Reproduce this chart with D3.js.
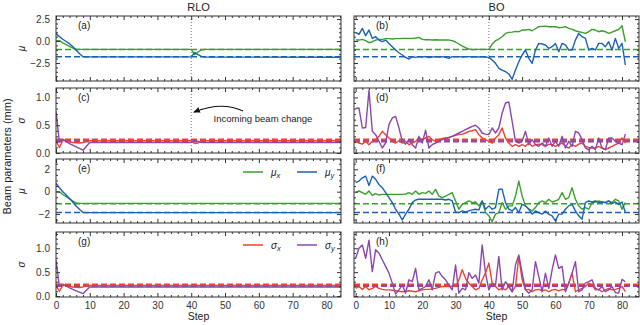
<!DOCTYPE html>
<meta charset="utf-8">
<head>
    <title>RLO vs BO beam parameters</title>
</head>
<script src="https://d3js.org/d3.v7.min.js"></script>
<style>
    body { margin: 0; background: #fff; }
    text { font-family: "Liberation Sans", Arial, sans-serif; fill: #222; }
    .frame { fill: none; stroke: #333; stroke-width: 1; }
    .axis path { stroke: none; }
    .axis line { stroke: #333; }
    .axis text { font-size: 10px; fill: #333; }
    .line { fill: none; stroke-width: 1.4px; stroke-linejoin: round; }
    .target { fill: none; stroke-width: 1.5px; stroke-dasharray: 6,3; }
    .vline { stroke: #777; stroke-width: 1; stroke-dasharray: 1,2; }
</style>
<div id="viz"></div>
<script>
// ---- data ----
var columns = ['RLO', 'BO'];
var rowNames = ['μ', 'σ', 'μ', 'σ'];
var panelLabels = [['(a)', '(b)'], ['(c)', '(d)'], ['(e)', '(f)'], ['(g)', '(h)']];
var xTicks = [0, 10, 20, 30, 40, 50, 60, 70, 80];
var changeStep = 40;

// RLO: [step, value] points
var rloMuXa = [[0,0.05],[1,0.05],[2,-0.2],[3,-0.4],[4,-0.6],[5,-0.8],[6,-0.95],[40,-0.95],[41,-1.55],[42,-1.25],[43,-1.0],[44,-0.95],[84,-0.95]];
var rloMuYa = [[0,0.85],[1,0.5],[2,0.2],[3,-0.05],[4,-0.3],[5,-0.65],[6,-1.05],[7,-1.45],[8,-1.8],[40,-1.8],[41,-1.3],[42,-1.55],[43,-1.75],[44,-1.82],[84,-1.85]];
var rloSigXc = [[0,0.22],[1,0.1],[2,0.22],[3,0.23],[4,0.2],[5,0.19],[7,0.18],[8,0.19],[9,0.22],[40,0.22],[41,0.17],[42,0.18],[43,0.22],[84,0.22]];
var rloSigYc = [[0,0.75],[1,0.2],[2,0.25],[3,0.21],[4,0.17],[6,0.11],[8,0.05],[9,0.12],[10,0.19],[40,0.19],[41,0.23],[42,0.21],[43,0.19],[84,0.19]];
var rloMuXe = [[0,0.0],[1,0.0],[2,-0.25],[3,-0.45],[4,-0.65],[5,-0.85],[6,-1.0],[7,-1.05],[84,-1.05]];
var rloMuYe = [[0,0.75],[1,0.35],[2,0.0],[3,-0.3],[4,-0.6],[5,-0.95],[6,-1.3],[7,-1.6],[8,-1.87],[84,-1.87]];
var rloSigXg = [[0,0.22],[1,0.1],[2,0.22],[3,0.23],[4,0.2],[5,0.19],[7,0.18],[8,0.19],[9,0.22],[84,0.22]];
var rloSigYg = [[0,0.75],[1,0.2],[2,0.25],[3,0.21],[4,0.17],[6,0.11],[8,0.05],[9,0.12],[10,0.19],[84,0.19]];

// BO: one value per step, 0..81
var boMuXb = [0.11,0.11,0.19,0.04,-0.19,-0.08,0.11,0.19,0.19,0.27,0.27,0.23,0.27,0.27,0.30,0.30,0.30,0.30,0.34,0.42,0.19,0.15,0.15,0.11,0.15,0.11,0.11,0.11,0.11,0.04,-0.11,-0.34,-0.57,-0.76,-0.91,-0.98,-0.95,-0.95,-0.95,-0.95,-0.95,-0.34,0.04,0.23,0.49,0.87,0.98,1.02,1.10,1.06,1.25,1.25,1.33,1.17,1.40,1.63,1.67,1.70,1.63,1.63,1.63,1.52,1.55,1.63,1.44,1.33,1.17,1.06,0.98,0.87,1.06,1.33,1.25,1.06,1.17,1.06,0.87,1.02,1.17,1.33,1.74,-0.08];
var boMuYb = [0.98,0.76,1.44,0.61,1.25,0.30,0.49,0.11,-0.08,0.11,-0.27,-0.64,-1.02,-1.33,-1.59,-1.86,-2.05,-1.78,-1.86,-1.78,-1.82,-1.78,-1.89,-1.82,-1.78,-1.82,-1.78,-1.86,-1.97,-1.78,-1.78,-1.78,-1.82,-1.78,-1.78,-1.82,-1.78,-1.82,-1.78,-1.82,-1.86,-2.16,-2.54,-3.11,-3.30,-3.48,-3.75,-4.36,-3.30,-2.35,-1.59,-1.02,-1.97,-2.54,-1.02,-0.27,-0.34,-0.45,-0.83,-0.64,-0.27,-1.21,-0.27,-0.45,-1.02,-1.02,0.11,0.87,0.49,0.30,-1.02,-0.83,-1.02,-0.27,-0.27,-0.64,-0.08,-1.02,0.30,-0.83,-0.27,-2.73];
var boSigXd = [0.21,0.18,0.16,0.21,0.15,0.21,0.24,0.30,0.39,0.33,0.27,0.21,0.18,0.22,0.18,0.21,0.15,0.18,0.21,0.27,0.24,0.27,0.30,0.24,0.21,0.24,0.26,0.27,0.28,0.30,0.32,0.33,0.34,0.36,0.39,0.40,0.42,0.33,0.27,0.24,0.21,0.18,0.27,0.33,0.45,0.27,0.18,0.12,0.15,0.12,0.15,0.12,0.18,0.12,0.15,0.16,0.15,0.12,0.16,0.15,0.12,0.15,0.18,0.12,0.09,0.15,0.12,0.16,0.18,0.12,0.10,0.09,0.09,0.12,0.09,0.06,0.09,0.12,0.15,0.18,0.27,0.18];
var boSigYd = [0.80,0.81,0.45,0.46,1.13,0.39,0.33,0.21,0.09,0.18,0.51,0.63,0.66,0.45,0.21,0.16,0.24,0.15,0.09,0.30,0.18,0.41,0.09,0.15,0.18,0.21,0.24,0.26,0.28,0.30,0.33,0.36,0.39,0.42,0.45,0.48,0.50,0.45,0.36,0.34,0.33,0.45,0.36,0.45,0.72,0.90,0.92,0.57,0.21,0.18,0.21,0.39,0.15,0.24,0.15,0.12,0.18,0.12,0.27,0.12,0.21,0.12,0.30,0.09,0.21,0.12,0.39,0.36,0.24,0.09,0.06,0.12,0.06,0.27,0.09,0.06,0.27,0.27,0.21,0.18,0.15,0.34];
var boMuXf = [-0.09,0.06,-0.09,-0.24,0.06,-0.33,-0.18,-0.30,-0.24,-0.24,-0.24,-0.24,-0.24,-0.24,-0.24,-0.21,-0.09,-0.24,0.06,-0.24,-0.09,-0.15,0.06,-0.24,0.21,-0.39,-0.53,-0.39,-0.24,-0.09,-0.83,-1.57,-1.13,-0.98,-0.83,-0.98,-0.92,-1.27,-0.83,-1.87,-2.16,-2.67,-2.01,-1.87,-0.98,-1.57,-1.27,-1.27,-0.39,0.95,-0.39,-1.27,-1.57,-1.72,-1.42,-0.98,-0.83,-0.98,-0.68,-0.92,-0.83,-0.68,-0.09,-0.68,-0.53,0.36,-0.68,-1.27,-1.57,-1.42,-1.57,-0.98,-0.92,-0.83,-0.92,-0.98,-0.83,-0.98,-0.68,-0.83,-1.57,-0.98];
var boMuYf = [0.80,0.95,1.24,1.39,0.56,1.39,1.10,0.65,0.36,-0.09,-0.53,-0.98,-1.57,-2.01,-2.52,-2.01,-1.57,-0.98,-0.74,-0.68,-0.68,-0.68,-0.68,-0.68,-0.68,-0.68,-0.68,-0.74,-0.68,-0.83,-1.81,-1.87,-1.72,-1.81,-1.72,-1.63,-1.57,-1.63,-0.83,-1.57,-1.27,-1.57,-1.42,0.21,0.21,-0.98,-1.57,-1.72,-1.42,-1.87,-1.13,-1.27,-1.57,-2.01,-1.72,-1.87,-2.01,-1.72,-2.01,-2.16,-2.61,-2.01,-2.01,-1.57,-1.27,-1.13,-1.72,-2.16,-2.46,-0.98,-0.83,-0.92,-0.83,-0.98,-0.92,-0.98,-0.83,-1.07,-0.92,-1.13,-0.92,-1.87];
var boSigXh = [0.16,0.20,0.14,0.20,0.13,0.16,0.20,0.16,0.14,0.13,0.13,0.12,0.11,0.10,0.09,0.10,0.11,0.10,0.09,0.11,0.13,0.14,0.14,0.15,0.16,0.18,0.20,0.20,0.20,0.21,0.20,0.34,0.55,0.37,0.27,0.20,0.13,0.16,0.34,0.48,0.69,0.27,0.20,0.13,0.16,0.13,0.20,0.09,0.20,0.83,0.34,0.13,0.14,0.09,0.13,0.14,0.11,0.13,0.09,0.13,0.14,0.11,0.14,0.13,0.27,0.48,0.09,0.13,0.16,0.20,0.27,0.23,0.13,0.14,0.09,0.13,0.16,0.13,0.14,0.16,0.20,0.09];
var boSigYh = [0.79,1.00,1.07,0.79,1.17,0.51,0.97,0.90,0.76,0.62,0.48,0.27,0.04,0.13,0.23,0.06,0.34,0.30,0.58,0.13,0.16,0.20,0.34,0.13,0.48,0.51,0.41,0.34,0.23,0.13,0.65,0.06,0.16,0.13,0.49,0.37,0.44,0.27,1.07,0.48,0.13,0.27,0.23,0.83,0.13,0.30,0.20,0.09,0.65,0.86,0.48,0.13,0.06,0.13,0.72,0.41,0.09,0.48,0.16,0.55,0.86,0.58,0.62,0.09,0.27,0.48,0.72,0.09,0.13,0.27,0.30,0.34,0.16,0.13,0.20,0.09,0.13,0.20,0.07,0.06,0.35,0.30];

// targets (dashed) per row: [first series, second series]
var targets = [[-0.95, -1.78], [0.24, 0.21], [-1.07, -1.87], [0.24, 0.21]];

var colors = { muX: '#3a9f2c', muY: '#1c62b4', sigX: '#f2402f', sigY: '#8b47ab' };

// ---- layout ----
var W = 640, H = 325;
var colX = [[56, 341], [354, 639]];
var rowY = [[16, 81], [88, 153], [159, 223], [232, 297]];
var yDomains = [[-4.55, 2.85], [0, 1.17], [-2.8, 2.92], [-0.02, 1.34]];
var yMajor = [[-2.5, 0, 2.5], [0, 0.5, 1.0], [-2, 0, 2], [0, 0.5, 1.0]];
var yMinorStep = [0.5, 0.1, 0.5, 0.1];
var yFormat = [d3.format('.1f'), d3.format('.1f'), d3.format('d'), d3.format('.1f')];
var xDomains = [[0, 84.3], [-0.5, 85.1]];

var svg = d3.select('#viz').append('svg')
    .attr('width', W).attr('height', H);

function range(a, b, s) {
    var out = [];
    for (var v = a; v <= b + 1e-9; v += s) out.push(+v.toFixed(4));
    return out;
}
function pairs(arr) { return arr.map(function(v, i) { return [i, v]; }); }

var series = [
    [[rloMuXa, rloMuYa], [pairs(boMuXb), pairs(boMuYb)]],
    [[rloSigXc, rloSigYc], [pairs(boSigXd), pairs(boSigYd)]],
    [[rloMuXe, rloMuYe], [pairs(boMuXf), pairs(boMuYf)]],
    [[rloSigXg, rloSigYg], [pairs(boSigXh), pairs(boSigYh)]]
];

for (var r = 0; r < 4; r++) {
    for (var c = 0; c < 2; c++) {
        drawPanel(r, c);
    }
}

function drawPanel(r, c) {
    var x = d3.scaleLinear().domain(xDomains[c]).range(colX[c]);
    var y = d3.scaleLinear().domain(yDomains[r]).range([rowY[r][1], rowY[r][0]]);
    var g = svg.append('g');
    var isMu = (r % 2 === 0);
    var cols = isMu ? [colors.muX, colors.muY] : [colors.sigX, colors.sigY];

    var clipId = 'clip' + r + c;
    g.append('clipPath').attr('id', clipId).append('rect')
        .attr('x', colX[c][0]).attr('y', rowY[r][0])
        .attr('width', colX[c][1] - colX[c][0]).attr('height', rowY[r][1] - rowY[r][0]);
    var plot = g.append('g').attr('clip-path', 'url(#' + clipId + ')');

    // dotted line at the incoming beam change (top two rows)
    if (r < 2) {
        plot.append('line').attr('class', 'vline')
            .attr('x1', x(changeStep)).attr('x2', x(changeStep))
            .attr('y1', rowY[r][0]).attr('y2', rowY[r][1]);
    }

    // targets
    targets[r].forEach(function(t, i) {
        plot.append('line').attr('class', 'target')
            .attr('x1', x(xDomains[c][0])).attr('x2', x(xDomains[c][1]))
            .attr('y1', y(t)).attr('y2', y(t))
            .style('stroke', cols[i])
            .style('stroke-width', isMu ? 1.5 : 2.2);
    });

    var line = d3.line().x(function(d) { return x(d[0]); }).y(function(d) { return y(d[1]); });
    series[r][c].forEach(function(s, i) {
        plot.append('path').datum(s).attr('class', 'line')
            .attr('d', line).style('stroke', cols[i]);
    });

    // axes, ticks pointing in on all four sides
    var xMinor = range(0, 84, 2).filter(function(v) { return v % 10 !== 0; });
    var yMin = range(Math.ceil(yDomains[r][0] / yMinorStep[r]) * yMinorStep[r], yDomains[r][1], yMinorStep[r])
        .filter(function(v) { return yMajor[r].indexOf(v) < 0; });

    g.append('g').attr('class', 'axis').attr('transform', 'translate(0,' + rowY[r][1] + ')')
        .call(d3.axisBottom(x).tickValues(xTicks).tickSize(-4).tickPadding(5)
            .tickFormat(r === 3 ? d3.format('d') : ''));
    g.append('g').attr('class', 'axis').attr('transform', 'translate(0,' + rowY[r][1] + ')')
        .call(d3.axisBottom(x).tickValues(xMinor).tickSize(-2).tickFormat(''));
    g.append('g').attr('class', 'axis').attr('transform', 'translate(0,' + rowY[r][0] + ')')
        .call(d3.axisTop(x).tickValues(xTicks).tickSize(-4).tickFormat(''));
    g.append('g').attr('class', 'axis').attr('transform', 'translate(0,' + rowY[r][0] + ')')
        .call(d3.axisTop(x).tickValues(xMinor).tickSize(-2).tickFormat(''));

    g.append('g').attr('class', 'axis').attr('transform', 'translate(' + colX[c][0] + ',0)')
        .call(d3.axisLeft(y).tickValues(yMajor[r]).tickSize(-4).tickPadding(6)
            .tickFormat(c === 0 ? function(v) { return yFormat[r](v).replace('-', '\u2212'); } : ''));
    g.append('g').attr('class', 'axis').attr('transform', 'translate(' + colX[c][0] + ',0)')
        .call(d3.axisLeft(y).tickValues(yMin).tickSize(-2).tickFormat(''));
    g.append('g').attr('class', 'axis').attr('transform', 'translate(' + colX[c][1] + ',0)')
        .call(d3.axisRight(y).tickValues(yMajor[r]).tickSize(-4).tickFormat(''));
    g.append('g').attr('class', 'axis').attr('transform', 'translate(' + colX[c][1] + ',0)')
        .call(d3.axisRight(y).tickValues(yMin).tickSize(-2).tickFormat(''));

    g.append('rect').attr('class', 'frame')
        .attr('x', colX[c][0]).attr('y', rowY[r][0])
        .attr('width', colX[c][1] - colX[c][0]).attr('height', rowY[r][1] - rowY[r][0]);

    g.append('text')
        .attr('x', colX[c][0] + 22).attr('y', rowY[r][0] + 13)
        .style('font-size', '10px')
        .text(panelLabels[r][c]);

    if (c === 0) {
        g.append('text')
            .attr('transform', 'translate(25,' + ((rowY[r][0] + rowY[r][1]) / 2) + ')rotate(-90)')
            .style('font-size', '10px').style('font-style', 'italic')
            .style('text-anchor', 'middle')
            .text(rowNames[r]);
    }
    if (r === 3) {
        g.append('text')
            .attr('x', (colX[c][0] + colX[c][1]) / 2).attr('y', 320)
            .style('font-size', '10.5px').style('text-anchor', 'middle')
            .text('Step');
    }
    if (r === 0) {
        g.append('text')
            .attr('x', (colX[c][0] + colX[c][1]) / 2).attr('y', 11)
            .style('font-size', '11px').style('text-anchor', 'middle')
            .text(columns[c]);
    }
}

// legends in (e) and (g)
var legendItems = [
    [{ sym: 'μ', sub: 'x', color: colors.muX }, { sym: 'μ', sub: 'y', color: colors.muY }],
    [{ sym: 'σ', sub: 'x', color: colors.sigX }, { sym: 'σ', sub: 'y', color: colors.sigY }]
];
[[2, 0], [3, 1]].forEach(function(p) {
    var yy = rowY[p[0]][0] + 13;
    legendItems[p[1]].forEach(function(it, i) {
        var x0 = 243 + i * 54;
        svg.append('line').attr('x1', x0).attr('x2', x0 + 20).attr('y1', yy).attr('y2', yy)
            .style('stroke', it.color).style('stroke-width', 1.5);
        var t = svg.append('text').attr('x', x0 + 28).attr('y', yy + 3.5)
            .style('font-size', '10px').style('font-style', 'italic');
        t.append('tspan').text(it.sym);
        t.append('tspan').attr('dy', 2.5).style('font-size', '7.5px').text(it.sub);
    });
});

// annotation in (c)
var ax = d3.scaleLinear().domain(xDomains[0]).range(colX[0]);
svg.append('defs').append('marker')
    .attr('id', 'arrow').attr('viewBox', '0 0 10 10').attr('refX', 8).attr('refY', 5)
    .attr('markerWidth', 6).attr('markerHeight', 6).attr('orient', 'auto-start-reverse')
    .append('path').attr('d', 'M0,1 L10,5 L0,9 z').style('fill', '#111');
svg.append('path')
    .attr('d', 'M243,111 Q222,101 ' + (ax(changeStep) + 3) + ',112')
    .style('fill', 'none').style('stroke', '#111').style('stroke-width', 1.2)
    .attr('marker-end', 'url(#arrow)');
svg.append('text')
    .attr('x', 263).attr('y', 122)
    .style('font-size', '9.5px').style('text-anchor', 'middle')
    .text('Incoming beam change');

svg.append('text')
    .attr('transform', 'translate(11,' + ((rowY[0][0] + rowY[3][1]) / 2) + ')rotate(-90)')
    .style('font-size', '11px').style('text-anchor', 'middle')
    .text('Beam parameters (mm)');
</script>
